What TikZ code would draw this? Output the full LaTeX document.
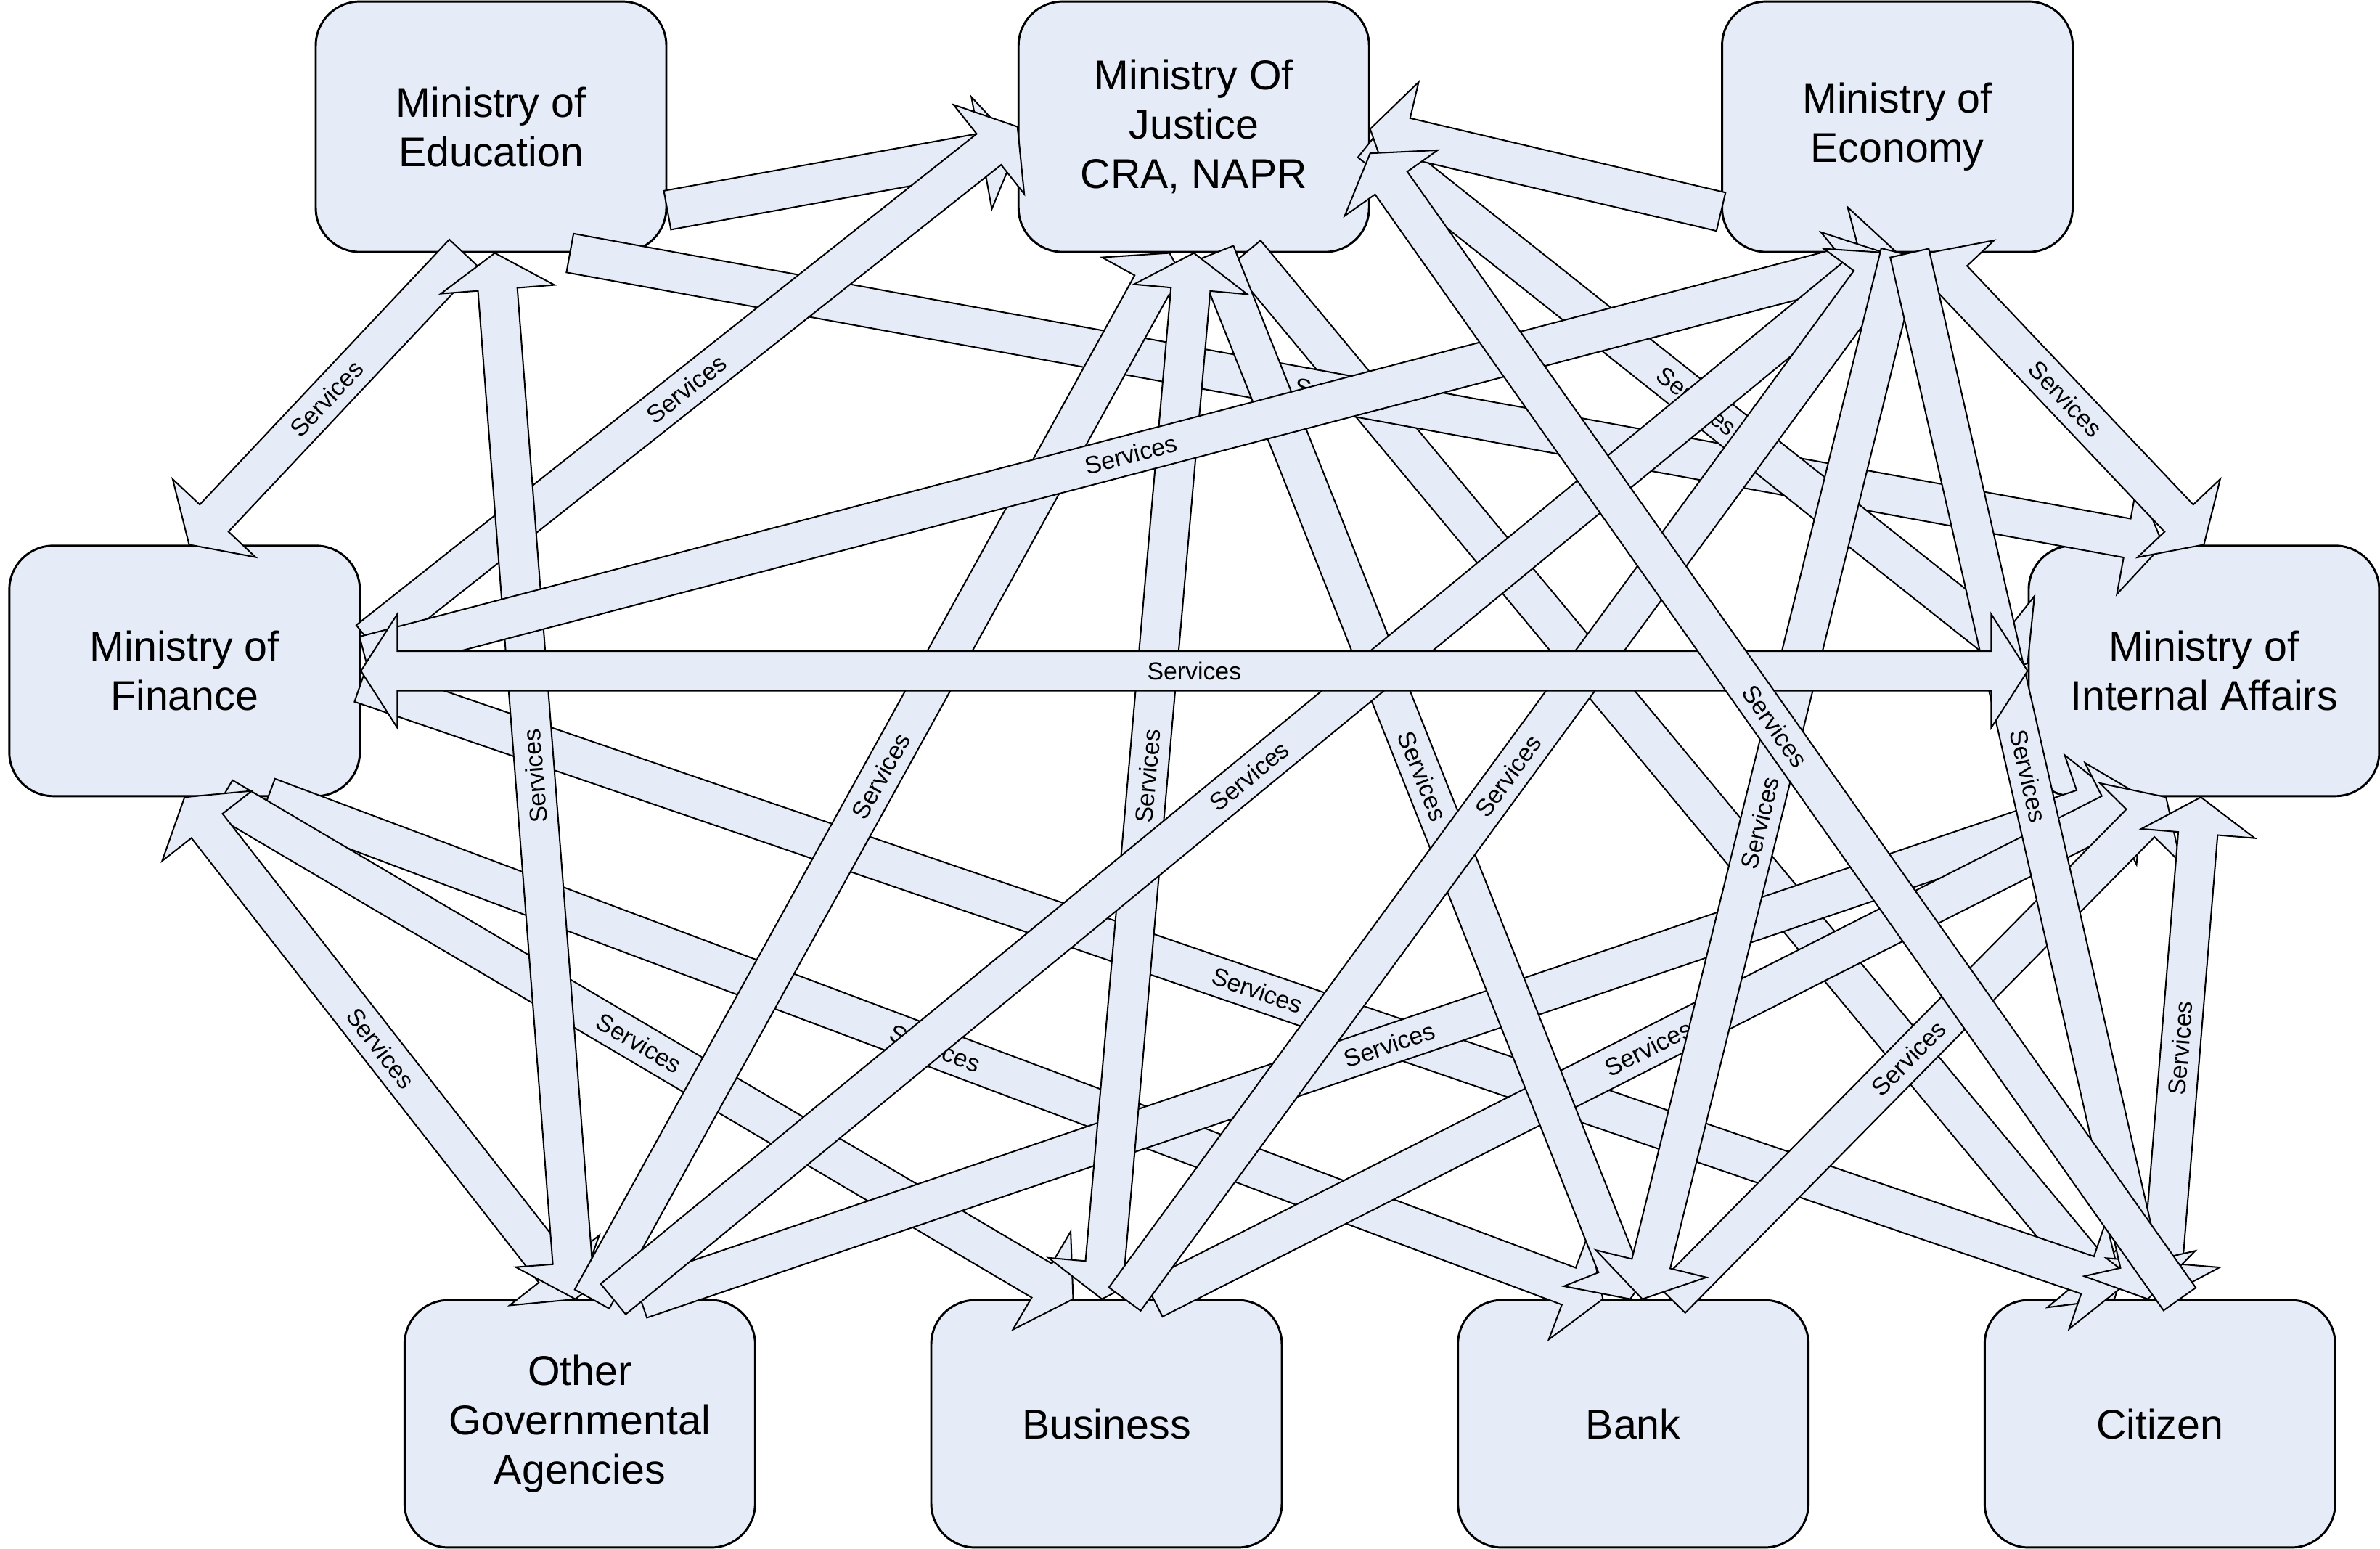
\documentclass[tikz,border=0pt]{standalone}
\usepackage{fontspec}
\setmainfont{Liberation Sans}
\usetikzlibrary{calc}
\definecolor{boxfill}{RGB}{230,236,247}
\tikzset{
  box/.style={draw=black, line width=0.8pt, fill=boxfill, rounded corners=0.58cm,
    minimum width=4.62cm, minimum height=3.3cm, align=center, inner sep=0pt,
    font=\fontsize{15.6}{18.5}\selectfont},
  strip/.style={draw=black, line width=0.55pt, fill=boxfill, line join=miter},
  lab/.style={sloped, inner sep=0pt, font=\fontsize{9.2}{10}\selectfont},
}
% single-headed block arrow: #1 tail, #2 tip, #3 label
\newcommand\sarr[3]{%
  \coordinate (aT) at (#1);
  \coordinate (aH) at (#2);
  \coordinate (aB) at ($(aH)!0.48cm!(aT)$);
  \filldraw[strip] ($(aT)!0.26cm!90:(aH)$) -- ($(aB)!0.26cm!-90:(aT)$)
    -- ($(aB)!0.75cm!-90:(aT)$) -- (aH) -- ($(aB)!0.75cm!90:(aT)$)
    -- ($(aB)!0.26cm!90:(aT)$) -- ($(aT)!0.26cm!-90:(aH)$) -- cycle;
  \path (aT) -- (aH) #3;
}
% double-headed block arrow
\newcommand\darr[3]{%
  \coordinate (aT) at (#1);
  \coordinate (aH) at (#2);
  \coordinate (aB) at ($(aH)!0.48cm!(aT)$);
  \coordinate (aA) at ($(aT)!0.48cm!(aH)$);
  \filldraw[strip] (aT) -- ($(aA)!0.75cm!90:(aH)$) -- ($(aA)!0.26cm!90:(aH)$)
    -- ($(aB)!0.26cm!-90:(aT)$) -- ($(aB)!0.75cm!-90:(aT)$) -- (aH)
    -- ($(aB)!0.75cm!90:(aT)$) -- ($(aB)!0.26cm!90:(aT)$)
    -- ($(aA)!0.26cm!-90:(aH)$) -- ($(aA)!0.75cm!-90:(aH)$) -- cycle;
  \path (aT) -- (aH) #3;
}
\begin{document}
\begin{tikzpicture}[x=0.02cm, y=-0.02cm]
\useasboundingbox (0,0) rectangle (1568,1020);

\node[box] (edu) at (323.5,83.5) {Ministry of\\Education};
\node[box] (jus) at (786.5,83.5) {Ministry Of\\Justice\\CRA, NAPR};
\node[box] (eco) at (1250,83.5) {Ministry of\\Economy};
\node[box] (fin) at (121.6,442) {Ministry of\\Finance};
\node[box] (intaff) at (1452,442) {Ministry of\\Internal Affairs};
\node[box, minimum height=3.26cm] (oth) at (382,938) {Other\\Governmental\\Agencies};
\node[box, minimum height=3.26cm] (bus) at (729,938) {Business};
\node[box, minimum height=3.26cm] (bank) at (1076,938) {Bank};
\node[box, minimum height=3.26cm] (cit) at (1423,938) {Citizen};

% lowest layer
\sarr{$(jus.south)+(34,0)$}{$(cit.north)+(-30,0)$}{}
\sarr{$(edu.south)+(52,0)$}{$(intaff.north)+(-27,0)$}{node[lab,pos=0.4845]{Services}}
\sarr{$(jus.east)+(0,10)$}{$(intaff.west)+(0,-5)$}{node[lab,pos=0.497]{Services}}
% Finance to the lower row
\sarr{$(fin.south)+(55,0)$}{$(bank.north)+(-20,0)$}{node[lab,pos=0.5]{Services}}
\sarr{$(fin.south)+(25,0)$}{$(bus.north)+(-22,0)$}{node[lab,pos=0.49]{Services}}
\darr{fin.south}{$(oth.north)+(-2,0)$}{node[lab,pos=0.5]{Services}}
\sarr{$(fin.east)+(0,8)$}{$(cit.north)+(-25,-8)$}{node[lab,pos=0.509]{Services}}
% upper links
\sarr{$(edu.east)+(0,55)$}{$(jus.west)+(0,13)$}{}
\sarr{$(fin.east)+(5,-20)$}{jus.west}{node[lab,pos=0.49]{Services}}
\sarr{$(edu.south)+(-18,0)$}{$(fin.north)+(3,0)$}{node[lab,pos=0.5]{Services}}
\darr{$(oth.north)+(-3,0)$}{$(edu.south)+(2.5,0)$}{node[lab,pos=0.5,allow upside down]{Services}}
\sarr{$(eco.west)+(0,56)$}{$(jus.east)+(0,1.5)$}{}
\darr{$(eco.south)+(20,0)$}{intaff.north}{node[lab,pos=0.5]{Services}}
% lower row to Internal Affairs
\sarr{$(oth.north)+(40,0)$}{$(intaff.south)+(-57,0)$}{node[lab,pos=0.507]{Services}}
\sarr{$(bus.north)+(31,0)$}{$(intaff.south)+(-40,0)$}{node[lab,pos=0.5]{Services}}
\sarr{$(bank.north)+(25,0)$}{$(intaff.south)+(-25,0)$}{node[lab,pos=0.48]{Services}}
\darr{cit.north}{$(intaff.south)+(-2,0)$}{node[lab,pos=0.5]{Services}}
% Justice bottom
\sarr{$(jus.south)+(14,0)$}{$(bank.north)+(-2,0)$}{node[lab,pos=0.5]{Services}}
\sarr{$(oth.north)+(8,0)$}{$(jus.south)+(-16,0)$}{node[lab,pos=0.5]{Services}}
\darr{$(bus.north)+(-3,0)$}{jus.south}{node[lab,pos=0.5]{Services}}
% Finance - Economy
\sarr{$(fin.east)+(2.4,-10)$}{eco.south}{node[lab,pos=0.5]{Services}}
% Economy bottom
\sarr{$(oth.north)+(22,0)$}{$(eco.south)+(-8,0)$}{node[lab,pos=0.5]{Services}}
\sarr{$(bus.north)+(12,0)$}{$(eco.south)+(-4,0)$}{node[lab,pos=0.5]{Services}}
\sarr{$(eco.south)+(2,0)$}{$(bank.north)+(6,0)$}{node[lab,pos=0.545]{Services}}
\sarr{$(eco.south)+(8,0)$}{$(cit.north)+(-8,0)$}{node[lab,pos=0.5]{Services}}
% Finance - Internal Affairs
\darr{fin.east}{intaff.west}{node[lab,pos=0.5]{Services}}
% Citizen - Justice
\sarr{$(cit.north)+(13,0)$}{$(jus.east)+(0,17.5)$}{node[lab,pos=0.5]{Services}}
\end{tikzpicture}
\end{document}
